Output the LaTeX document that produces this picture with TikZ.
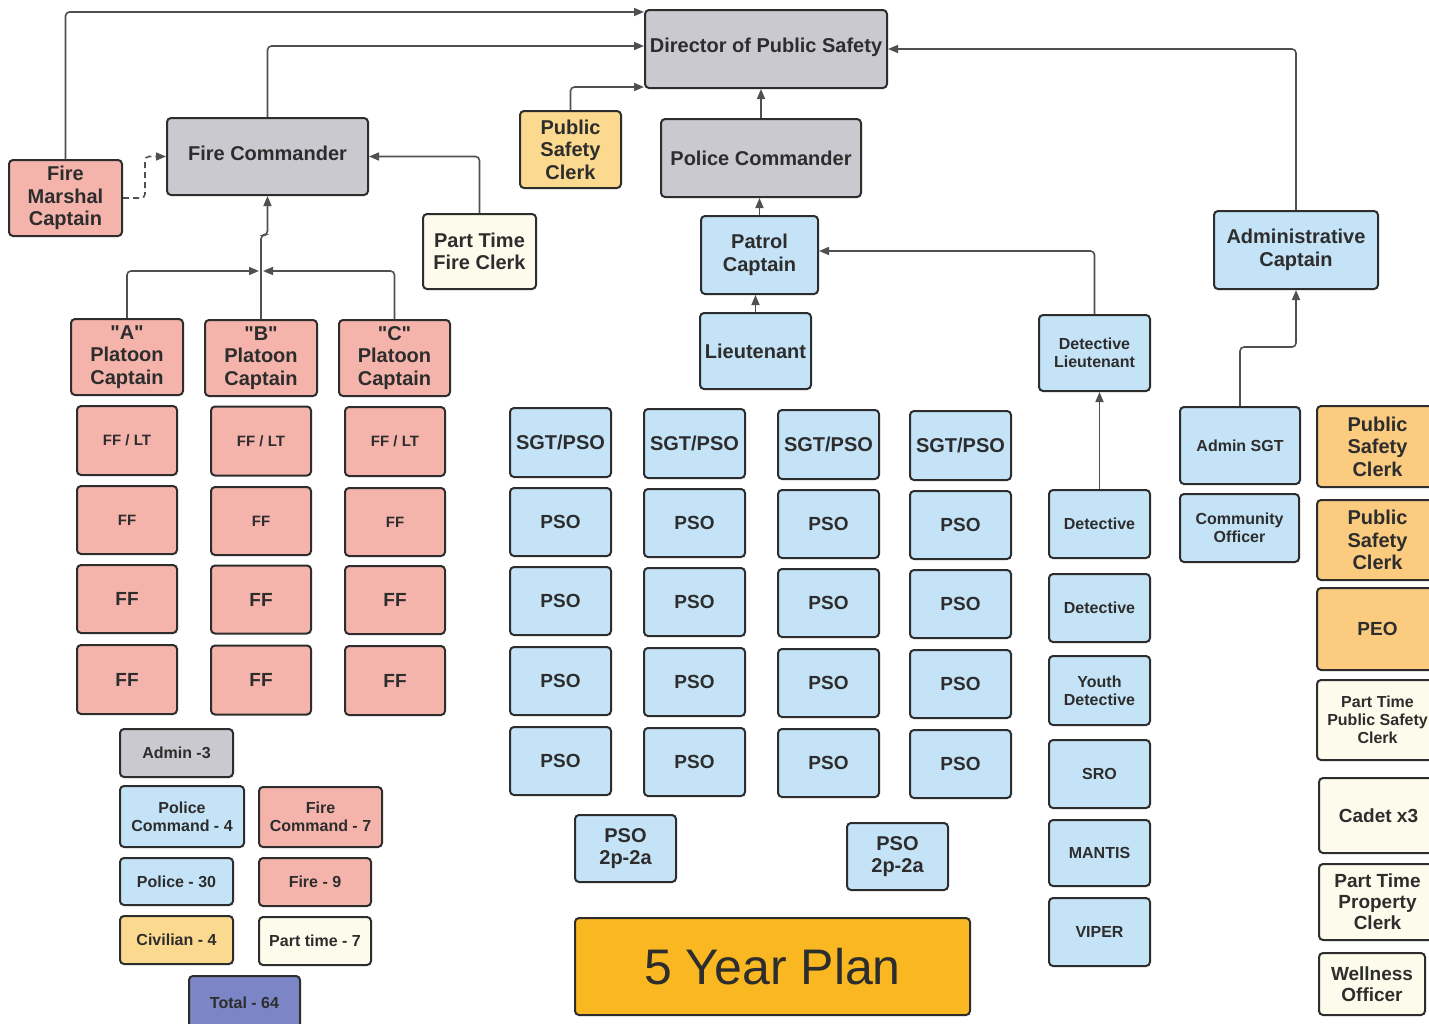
\documentclass[tikz,border=0pt]{standalone}
\usepackage{fontspec}
\setmainfont{Liberation Sans}[Ligatures=TeXOff]
\usetikzlibrary{arrows.meta,calc}

\definecolor{boxline}{RGB}{45,45,45}
\definecolor{lin}{RGB}{80,80,80}
\definecolor{txt}{RGB}{45,45,45}
\definecolor{grayfill}{RGB}{201,201,207}
\definecolor{pinkfill}{RGB}{245,180,171}
\definecolor{bluefill}{RGB}{197,227,247}
\definecolor{yellowfill}{RGB}{251,217,143}
\definecolor{orangefill}{RGB}{251,204,128}
\definecolor{creamfill}{RGB}{253,252,236}
\definecolor{purplefill}{RGB}{124,134,198}
\definecolor{planfill}{RGB}{249,184,33}

\tikzset{
  box/.style={draw=boxline, line width=2pt, rounded corners=4pt, inner sep=0pt,
    align=center, text=txt, font=\bfseries\fontsize{20}{22.5}\selectfont},
  smalltext/.style={font=\bfseries\fontsize{16}{18}\selectfont},
  midtext/.style={font=\bfseries\fontsize{15}{17}\selectfont},
  fftext/.style={font=\bfseries\fontsize{19}{21}\selectfont},
  graybox/.style={fill=grayfill},
  pinkbox/.style={fill=pinkfill},
  bluebox/.style={fill=bluefill},
  yellowbox/.style={fill=yellowfill},
  orangebox/.style={fill=orangefill},
  creambox/.style={fill=creamfill},
  purplebox/.style={fill=purplefill},
  conn/.style={draw=lin, line width=1.6pt, rounded corners=4pt,
    -{Triangle[length=10pt,width=8pt]}},
}

% \orgbox{name}{left}{top}{right}{bottom}{style}{text}
\newcommand\orgbox[7]{%
  \node[box,#6,minimum width={(#4)-(#2)},minimum height={(#5)-(#3)}]
    (#1) at ({((#2)+(#4))/2},{((#3)+(#5))/2}) {#7};}

\begin{document}
\begin{tikzpicture}[x=1pt,y=-1pt]
\fill[white] (0,0) rectangle (1429,1023);
\useasboundingbox (0,0) rectangle (1429,1023);

% ---- command staff ----
\orgbox{dir}{645}{10}{887}{88}{graybox}{Director of Public Safety\\[-16pt]\mbox{}}
\orgbox{fc}{167}{118}{368}{195}{graybox}{Fire Commander\\[-16pt]\mbox{}}
\orgbox{fmc}{9}{160}{122}{236}{pinkbox}{Fire\\Marshal\\Captain}
\orgbox{psc1}{520}{111}{621}{188}{yellowbox}{Public\\Safety\\Clerk}
\orgbox{pc}{661}{119}{861}{197}{graybox}{Police Commander}
\orgbox{ptfc}{423}{214}{536}{289}{creambox}{Part Time\\Fire Clerk}
\orgbox{pcap}{701}{216}{818}{294}{bluebox}{Patrol\\Captain}
\orgbox{adc}{1214}{211}{1378}{289}{bluebox}{Administrative\\Captain}
\orgbox{lt}{700}{313}{811}{389}{bluebox}{Lieutenant}
\orgbox{dlt}{1039}{315}{1150}{391}{bluebox,smalltext}{Detective\\Lieutenant}

% ---- fire platoons ----
\orgbox{apc}{71}{319}{183}{395}{pinkbox}{"A"\\Platoon\\Captain}
\orgbox{bpc}{205}{320}{317}{396}{pinkbox}{"B"\\Platoon\\Captain}
\orgbox{cpc}{339}{320}{450}{396}{pinkbox}{"C"\\Platoon\\Captain}
\foreach \c/\x/\d in {a/77/0,b/211/1,c/345/2}{
  \orgbox{ff\c1}{\x}{406+\d/2}{\x+100}{475+\d/2}{pinkbox,midtext}{FF / LT}
  \orgbox{ff\c2}{\x}{486+\d}{\x+100}{554+\d}{pinkbox,midtext}{FF}
  \orgbox{ff\c3}{\x}{565+\d/2}{\x+100}{633+\d/2}{pinkbox,fftext}{FF}
  \orgbox{ff\c4}{\x}{645+\d/2}{\x+100}{714+\d/2}{pinkbox,fftext}{FF}
}

% ---- patrol squads ----
\foreach \c/\x/\d in {1/510/0,2/644/1,3/778/2,4/910/3}{
  \orgbox{sgt\c}{\x}{408+\d}{\x+101}{477+\d}{bluebox}{SGT/PSO}
  \orgbox{pso\c1}{\x}{488+\d}{\x+101}{556+\d}{bluebox,fftext}{PSO}
  \orgbox{pso\c2}{\x}{567+\d}{\x+101}{635+\d}{bluebox,fftext}{PSO}
  \orgbox{pso\c3}{\x}{647+\d}{\x+101}{715+\d}{bluebox,fftext}{PSO}
  \orgbox{pso\c4}{\x}{727+\d}{\x+101}{795+\d}{bluebox,fftext}{PSO}
}
\orgbox{psoa}{575}{815}{676}{882}{bluebox}{PSO\\2p-2a}
\orgbox{psob}{847}{823}{948}{890}{bluebox}{PSO\\2p-2a}

\node[box, fill=planfill, minimum width=395, minimum height=97,
  font=\fontsize{50}{55}\selectfont] (plan) at (772.5,966.5) {5 Year Plan};

% ---- investigations ----
\orgbox{det1}{1049}{490}{1150}{558}{bluebox,smalltext}{Detective}
\orgbox{det2}{1049}{574}{1150}{642}{bluebox,smalltext}{Detective}
\orgbox{ydet}{1049}{656}{1150}{725}{bluebox,smalltext}{Youth\\Detective}
\orgbox{sro}{1049}{740}{1150}{808}{bluebox,smalltext}{SRO}
\orgbox{mantis}{1049}{820}{1150}{886}{bluebox,smalltext}{MANTIS}
\orgbox{viper}{1049}{898}{1150}{966}{bluebox,smalltext}{VIPER}

% ---- administration ----
\orgbox{asgt}{1180}{407}{1300}{484}{bluebox,smalltext}{Admin SGT}
\orgbox{comm}{1180}{494}{1299}{562}{bluebox,smalltext}{Community\\Officer}
\orgbox{psc2}{1317}{406}{1438}{487}{orangebox}{Public\\Safety\\Clerk}
\orgbox{psc3}{1317}{500}{1438}{580}{orangebox}{Public\\Safety\\Clerk}
\orgbox{peo}{1317}{588}{1438}{670}{orangebox,fftext}{PEO}
\orgbox{ptpsc}{1317}{680}{1438}{760}{creambox,smalltext}{Part Time\\Public Safety\\Clerk}
\orgbox{cadet}{1319}{778}{1438}{853}{creambox,fftext}{Cadet x3}
\orgbox{ptpc}{1319}{864}{1436}{940}{creambox,fftext}{Part Time\\Property\\Clerk}
\orgbox{well}{1319}{953}{1425}{1015}{creambox,fftext}{Wellness\\Officer}

% ---- staffing totals ----
\orgbox{adm}{120}{729}{233}{777}{graybox,smalltext}{Admin -3}
\orgbox{polc}{120}{786}{244}{847}{bluebox,smalltext}{Police\\Command - 4}
\orgbox{firc}{259}{787}{382}{847}{pinkbox,smalltext}{Fire\\Command - 7}
\orgbox{pol}{120}{858}{233}{905}{bluebox,smalltext}{Police - 30}
\orgbox{fire}{259}{858}{371}{906}{pinkbox,smalltext}{Fire - 9}
\orgbox{civ}{120}{916}{233}{964}{yellowbox,smalltext}{Civilian - 4}
\orgbox{ptime}{259}{917}{371}{965}{creambox,smalltext}{Part time - 7}
\orgbox{tot}{189}{976}{300}{1030}{purplebox,smalltext}{Total - 64}

% ---- reporting lines ----
\draw[conn] (fmc.north) |- ($(dir.north west)+(0,3)$);
\draw[conn] (fc.north) |- ($(dir.north west)+(0,37)$);
\draw[conn] (psc1.north) |- ($(dir.south west)+(0,-2)$);
\draw[conn] (pc.north) -- (pc.north |- dir.south);
\draw[conn] (adc.north) |- (dir.east);
\draw[conn, dashed, dash pattern=on 6pt off 4pt] (fmc.east) -- ++(22,0) |- (fc.west);
\draw[conn] (ptfc.north) |- (fc.east);
\draw[conn] (bpc.north) -- ++(0,-84) -| (fc.south);
\draw[conn] (apc.north) |- ($(bpc.north)+(-2,-48)$);
\draw[conn] (cpc.north) |- ($(bpc.north)+(2,-48)$);
\draw[conn] (pcap.north) -- (pcap.north |- pc.south);
\draw[conn] (lt.north) -- (lt.north |- pcap.south);
\draw[conn] (dlt.north) |- ($(pcap.east)+(0,-4)$);
\draw[conn] (det1.north) -- (det1.north |- dlt.south);
\draw[conn] (asgt.north) -- ++(0,-59) -| (adc.south);
\end{tikzpicture}
\end{document}
